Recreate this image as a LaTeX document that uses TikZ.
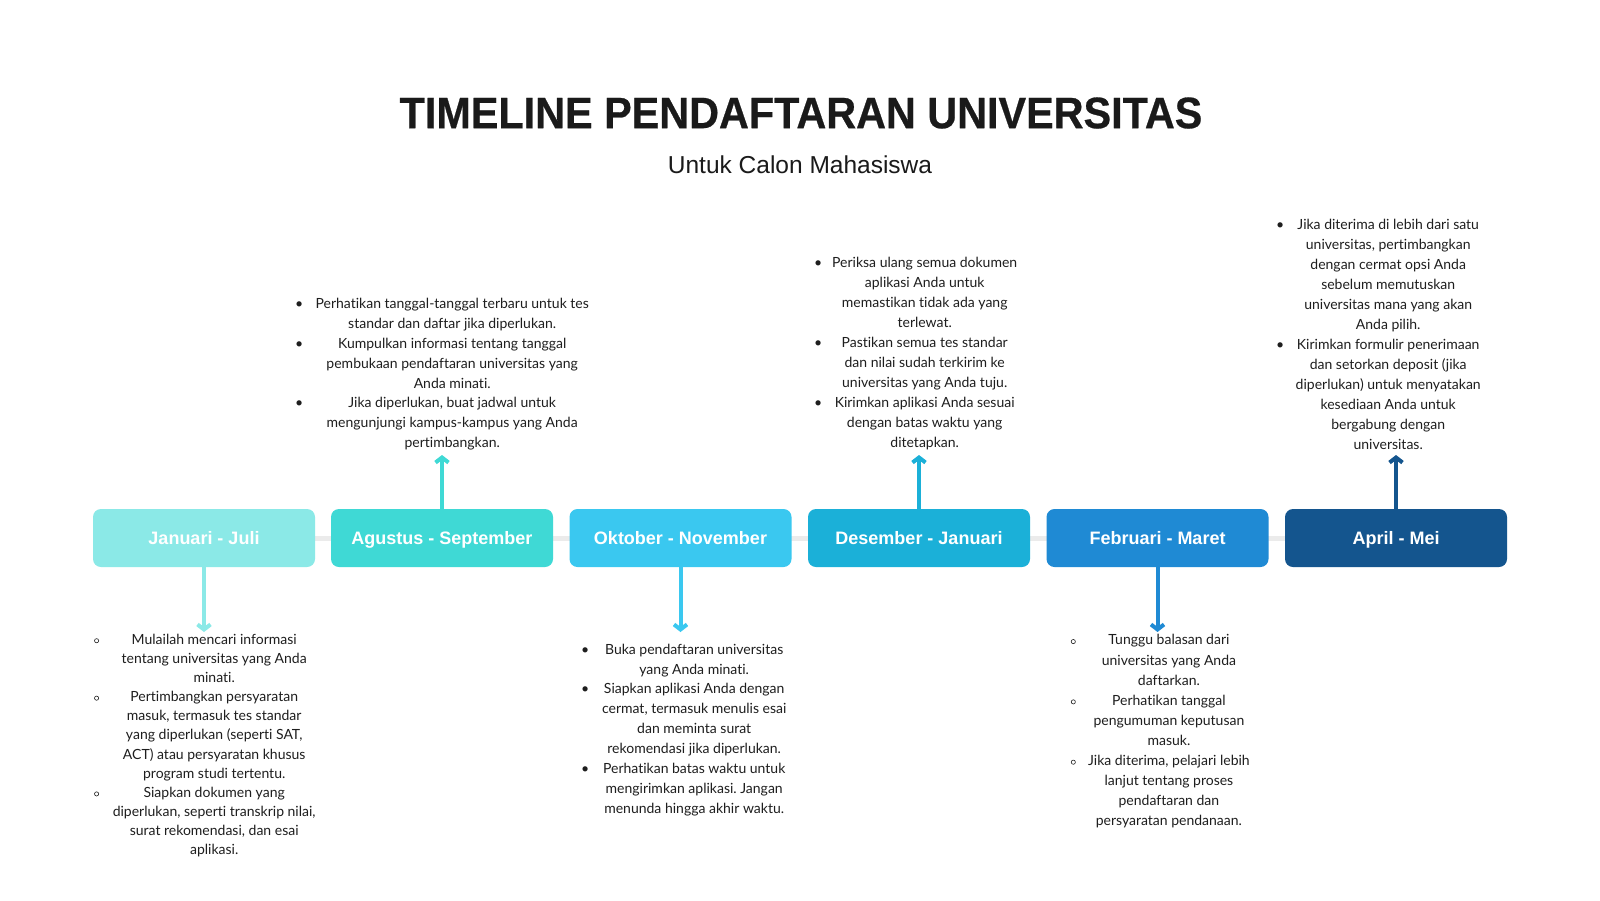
\documentclass[tikz,border=0pt]{standalone}
\usepackage{fontspec}
\usepackage{graphicx}
\setmainfont{Lato}[Ligatures=CommonOff]
\newfontfamily\arialf{Liberation Sans}
\newfontfamily\titlef{Liberation Sans}[BoldFeatures={FakeBold=0.6}]
\usetikzlibrary{arrows.meta,backgrounds}
\frenchspacing

\definecolor{cA}{HTML}{8BE9E7}
\definecolor{cB}{HTML}{3FD9D5}
\definecolor{cC}{HTML}{3AC8F0}
\definecolor{cD}{HTML}{1BB0D8}
\definecolor{cE}{HTML}{1F8AD4}
\definecolor{cF}{HTML}{14558E}
\definecolor{txt}{HTML}{1E1E1E}
\definecolor{ttl}{HTML}{1A1A1A}
\definecolor{tline}{HTML}{EBEBEB}

\newlength\colw
\newcommand\fbul{\textbullet}
\newcommand\hbul{\tikz[baseline=-3.4pt]\draw[txt, line width=0.6pt] (0,0) circle (2.1pt);}
\newcommand\Bi[1]{\makebox[12pt][l]{\bulsym}\makebox[\colw][c]{#1}\strut}
\newcommand\Ci[1]{\makebox[12pt]{}\makebox[\colw][c]{#1}\strut}

\tikzset{
  period/.style={rounded corners=8pt, minimum width=222pt, minimum height=58pt,
    inner sep=0pt, text height=14pt, text depth=1pt, text=white,
    font=\arialf\bfseries\fontsize{18}{20}\selectfont},
  blk/.style={anchor=north west, inner sep=0pt, align=left, text=txt},
  arr/.style={line width=4pt, -{Straight Barb[length=5pt,width=13pt]}},
}

\begin{document}
\begin{tikzpicture}[x=1pt,y=-1pt]
\useasboundingbox (0,0) rectangle (1600,900);

% title
\node[text=ttl, font=\titlef\bfseries\fontsize{44}{48}\selectfont, inner sep=0pt] (title) at (801,113) {\scalebox{0.94}[1]{TIMELINE PENDAFTARAN UNIVERSITAS}};
\node[text=ttl, font=\arialf\fontsize{24.5}{28}\selectfont, inner sep=0pt] (sub) at (800,165) {Untuk Calon Mahasiswa};

% period boxes
\node[period, fill=cA] (b1) at (204,538) {Januari - Juli};
\node[period, fill=cB] (b2) at (442,538) {Agustus - September};
\node[period, fill=cC] (b3) at (680.5,538) {Oktober - November};
\node[period, fill=cD] (b4) at (919,538) {Desember - Januari};
\node[period, fill=cE] (b5) at (1157.5,538) {Februari - Maret};
\node[period, fill=cF] (b6) at (1396,538) {April - Mei};

\begin{scope}[on background layer]
  \fill[white] (0,0) rectangle (1600,900);
  \draw[tline, line width=5pt] (b1.center) -- (b6.center);
\end{scope}

% arrow ends
\coordinate (e1) at (204,632);
\coordinate (e2) at (442,455);
\coordinate (e3) at (680.5,632);
\coordinate (e4) at (919,455);
\coordinate (e5) at (1157.5,632);
\coordinate (e6) at (1396,455);

\draw[arr, cA] (b1.south) -- (e1);
\draw[arr, cB] (b2.north) -- (e2);
\draw[arr, cC] (b3.south) -- (e3);
\draw[arr, cD] (b4.north) -- (e4);
\draw[arr, cE] (b5.south) -- (e5);
\draw[arr, cF] (b6.north) -- (e6);

% text blocks
\node[blk, font=\fontsize{14}{19.15}\selectfont,
  execute at begin node={\setlength\colw{216pt}\let\bulsym\hbul}] (t1) at (94,630.5) {%
\Bi{Mulailah mencari informasi}\\
\Ci{tentang universitas yang Anda}\\
\Ci{minati.}\\
\Bi{Pertimbangkan persyaratan}\\
\Ci{masuk, termasuk tes standar}\\
\Ci{yang diperlukan (seperti SAT,}\\
\Ci{ACT) atau persyaratan khusus}\\
\Ci{program studi tertentu.}\\
\Bi{Siapkan dokumen yang}\\
\Ci{diperlukan, seperti transkrip nilai,}\\
\Ci{surat rekomendasi, dan esai}\\
\Ci{aplikasi.}};

\node[blk, font=\fontsize{14}{19.85}\selectfont,
  execute at begin node={\setlength\colw{290pt}\let\bulsym\fbul}] (t2) at (295,294.5) {%
\Bi{Perhatikan tanggal-tanggal terbaru untuk tes}\\
\Ci{standar dan daftar jika diperlukan.}\\
\Bi{Kumpulkan informasi tentang tanggal}\\
\Ci{pembukaan pendaftaran universitas yang}\\
\Ci{Anda minati.}\\
\Bi{Jika diperlukan, buat jadwal untuk}\\
\Ci{mengunjungi kampus-kampus yang Anda}\\
\Ci{pertimbangkan.}};

\node[blk, font=\fontsize{14}{19.9}\selectfont,
  execute at begin node={\setlength\colw{202pt}\let\bulsym\fbul}] (t3) at (581,640) {%
\Bi{Buka pendaftaran universitas}\\
\Ci{yang Anda minati.}\\
\Bi{Siapkan aplikasi Anda dengan}\\
\Ci{cermat, termasuk menulis esai}\\
\Ci{dan meminta surat}\\
\Ci{rekomendasi jika diperlukan.}\\
\Bi{Perhatikan batas waktu untuk}\\
\Ci{mengirimkan aplikasi. Jangan}\\
\Ci{menunda hingga akhir waktu.}};

\node[blk, font=\fontsize{14}{20}\selectfont,
  execute at begin node={\setlength\colw{197pt}\let\bulsym\fbul}] (t4) at (814,253.3) {%
\Bi{Periksa ulang semua dokumen}\\
\Ci{aplikasi Anda untuk}\\
\Ci{memastikan tidak ada yang}\\
\Ci{terlewat.}\\
\Bi{Pastikan semua tes standar}\\
\Ci{dan nilai sudah terkirim ke}\\
\Ci{universitas yang Anda tuju.}\\
\Bi{Kirimkan aplikasi Anda sesuai}\\
\Ci{dengan batas waktu yang}\\
\Ci{ditetapkan.}};

\node[blk, font=\fontsize{14}{20.1}\selectfont,
  execute at begin node={\setlength\colw{172pt}\let\bulsym\hbul}] (t5) at (1070.7,630.7) {%
\Bi{Tunggu balasan dari}\\
\Ci{universitas yang Anda}\\
\Ci{daftarkan.}\\
\Bi{Perhatikan tanggal}\\
\Ci{pengumuman keputusan}\\
\Ci{masuk.}\\
\Bi{Jika diterima, pelajari lebih}\\
\Ci{lanjut tentang proses}\\
\Ci{pendaftaran dan}\\
\Ci{persyaratan pendanaan.}};

\node[blk, font=\fontsize{14}{20}\selectfont,
  execute at begin node={\setlength\colw{200pt}\let\bulsym\fbul}] (t6) at (1276,215.3) {%
\Bi{Jika diterima di lebih dari satu}\\
\Ci{universitas, pertimbangkan}\\
\Ci{dengan cermat opsi Anda}\\
\Ci{sebelum memutuskan}\\
\Ci{universitas mana yang akan}\\
\Ci{Anda pilih.}\\
\Bi{Kirimkan formulir penerimaan}\\
\Ci{dan setorkan deposit (jika}\\
\Ci{diperlukan) untuk menyatakan}\\
\Ci{kesediaan Anda untuk}\\
\Ci{bergabung dengan}\\
\Ci{universitas.}};
\end{tikzpicture}
\end{document}
